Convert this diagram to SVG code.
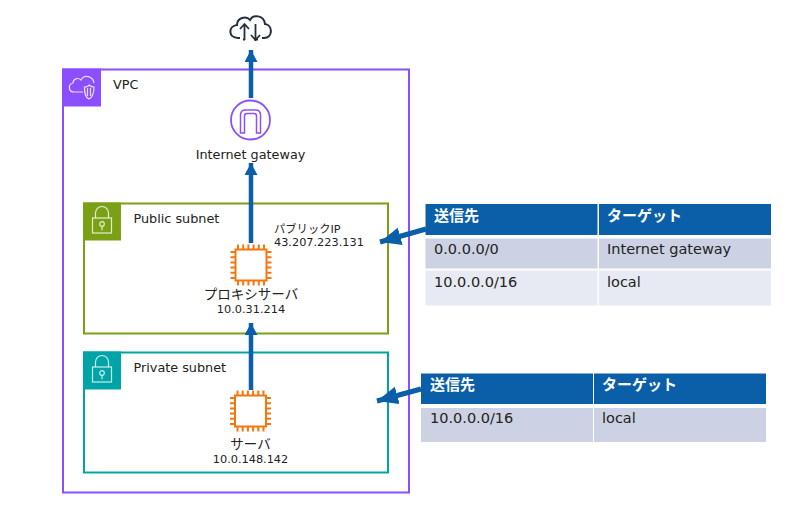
<svg xmlns="http://www.w3.org/2000/svg" width="799" height="518" viewBox="0 0 799 518">
<style>
text{font-family:"DejaVu Sans","Noto Sans CJK JP",sans-serif;fill:#222}
.s{font-size:12.800px}.ip{font-size:11.300px}.jp{font-size:13.500px}
.cell{font-size:14.500px}.hd{font-size:15px;font-weight:bold;fill:#fff}
.conn{stroke:#0a5fa8;stroke-width:4.500;fill:none}
.side{stroke:#0a5fa8;stroke-width:5;fill:none}
.frame{fill:none;stroke-width:2}
.ico{fill:none;stroke:#fff;stroke-width:1.200;opacity:.8}
.chip{fill:none;stroke:#f5760c;stroke-width:2}
.h{fill:#0a5fa8}.a{fill:#ccd2e3}.b{fill:#e7eaf2}
</style>
<defs>
<marker id="ah" markerUnits="userSpaceOnUse" markerWidth="14" markerHeight="14" refX="12" refY="6.500" orient="auto"><path d="M0 0L12 6.500L0 13Z" fill="#0a5fa8"/></marker>
<marker id="big" markerUnits="userSpaceOnUse" markerWidth="24" markerHeight="20" refX="21" refY="9" orient="auto"><path d="M0 0L21 9L0 18Z" fill="#0a5fa8"/></marker>
<g id="chip">
<rect class="chip" x="-15.500" y="-15.500" width="31" height="31"/>
<path class="chip" d="M-13-15v-5.500M-7.800-15v-5.500M-2.600-15v-5.500M2.600-15v-5.500M7.800-15v-5.500M13-15v-5.500M-13 15v5.500M-7.800 15v5.500M-2.600 15v5.500M2.600 15v5.500M7.800 15v5.500M13 15v5.500M-15-13h-5.500M-15-7.800h-5.500M-15-2.600h-5.500M-15 2.600h-5.500M-15 7.800h-5.500M-15 13h-5.500M15-13h5.500M15-7.800h5.500M15-2.600h5.500M15 2.600h5.500M15 7.800h5.500M15 13h5.500"/>
</g>
<g id="lock">
<rect class="ico" x="-9.500" y="-3" width="19" height="15"/>
<path class="ico" d="M-6.500-3v-5a6.500 6.500 0 0 1 13 0v5"/>
<circle class="ico" cx="0" cy="3" r="2.300"/><path class="ico" d="M0 5.300v4"/>
</g>
</defs>

<g id="vpc">
<rect class="frame" x="63" y="69.500" width="346" height="423" stroke="#8c4fff"/>
<rect x="62" y="68.500" width="39" height="38" fill="#8c4fff"/>
<path class="ico" d="M74 92h9M74 92c-6 0-6-8-1-9c0-4 5-6 8-3c3-6 12-4 13 3"/>
<path class="ico" d="M84.500 87c3 0 4-1 4.500-2c1 1 2 2 5 2c0 6-1 10-5 12c-4-2-4.500-6-4.500-12ZM87.500 88v8M90.500 88v8"/>
<text class="s" x="113" y="89">VPC</text>
</g>

<g id="internet">
<path d="M240 38h-2c-10 0-10-12-1-13c0-7 9-10 13-5c3-6 14-5 15 4c8 1 8 14-1 14h-2M243 39.500h2M254 39.500h4" fill="none" stroke="#232f3e" stroke-width="2"/>
<path d="M244.500 40V24M240 29l4.500-5l4.500 5M255.500 24v16M251 35l4.500 5l4.500-5" fill="none" stroke="#232f3e" stroke-width="1.800"/>
</g>

<g id="igw">
<circle cx="250.500" cy="120" r="19.500" fill="none" stroke="#8c4fff" stroke-width="1.800"/>
<path d="M240.500 133V115q0-5 5-5h10q5 0 5 5V133h-4V116q0-2.500-2.500-2.500h-7q-2.500 0-2.500 2.500V133Z" fill="none" stroke="#8c4fff" stroke-width="1.500"/>
<text class="s" x="250.500" y="159" text-anchor="middle">Internet gateway</text>
</g>

<g id="public-subnet">
<rect class="frame" x="84" y="203.500" width="304" height="130" stroke="#7aa116"/>
<rect x="83" y="202.500" width="38" height="38" fill="#7aa116"/>
<use href="#lock" x="102" y="221"/>
<text class="s" x="133.500" y="223">Public subnet</text>
</g>

<g id="proxy">
<use href="#chip" x="251" y="265"/>
<text class="jp" x="251" y="299" text-anchor="middle">プロキシサーバ</text>
<text class="ip" x="251" y="313" text-anchor="middle">10.0.31.214</text>
<text class="ip" x="274" y="233">パブリックIP</text>
<text class="ip" x="274" y="246">43.207.223.131</text>
</g>

<g id="private-subnet">
<rect class="frame" x="84" y="352.500" width="304" height="120" stroke="#00a4a6"/>
<rect x="83" y="351.500" width="38" height="38" fill="#00a4a6"/>
<use href="#lock" x="102" y="370"/>
<text class="s" x="133.500" y="372">Private subnet</text>
</g>

<g id="server">
<use href="#chip" x="250.500" y="411"/>
<text class="jp" x="250.500" y="449" text-anchor="middle">サーバ</text>
<text class="ip" x="250.500" y="463" text-anchor="middle">10.0.148.142</text>
</g>

<g id="connectors">
<path class="conn" marker-end="url(#ah)" d="M251 98V50"/>
<path class="conn" marker-end="url(#ah)" d="M251 243V163"/>
<path class="conn" marker-end="url(#ah)" d="M251 390V323"/>
<path class="side" marker-end="url(#big)" d="M426 229L380 242"/>
<path class="side" marker-end="url(#big)" d="M421 389L377 401"/>
</g>

<g id="table-public">
<rect class="h" x="425.500" y="204" width="172" height="31"/><rect class="h" x="599" y="204" width="172" height="31"/>
<rect class="a" x="425.500" y="238.500" width="172" height="30"/><rect class="a" x="599" y="238.500" width="172" height="30"/>
<rect class="b" x="425.500" y="270.500" width="172" height="35"/><rect class="b" x="599" y="270.500" width="172" height="35"/>
<text class="hd" x="434" y="221">送信先</text><text class="hd" x="607" y="221">ターゲット</text>
<text class="cell" x="434" y="254">0.0.0.0/0</text><text class="cell" x="607" y="254">Internet gateway</text>
<text class="cell" x="434" y="287">10.0.0.0/16</text><text class="cell" x="607" y="287">local</text>
</g>

<g id="table-private">
<rect class="h" x="421" y="373.500" width="172" height="30.500"/><rect class="h" x="594" y="373.500" width="172" height="30.500"/>
<rect class="a" x="421" y="408" width="172" height="34"/><rect class="a" x="594" y="408" width="172" height="34"/>
<text class="hd" x="430" y="390">送信先</text><text class="hd" x="602" y="390">ターゲット</text>
<text class="cell" x="430" y="423">10.0.0.0/16</text><text class="cell" x="602" y="423">local</text>
</g>
</svg>
